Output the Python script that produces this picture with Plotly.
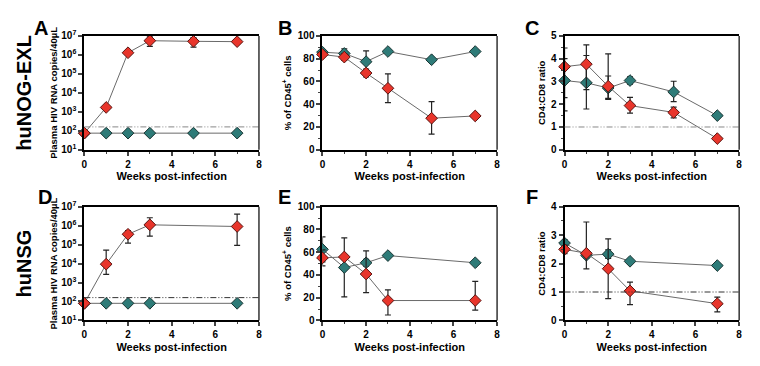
import plotly.graph_objects as go

# ---------------- data ----------------
weeks_top = [0, 1, 2, 3, 5, 7]
weeks_bot = [0, 1, 2, 3, 7]

# Panel A (huNOG-EXL, plasma HIV RNA)
A_red = [75, 1700, 1.3e6, 5.6e6, 5.2e6, 5.0e6]
A_red_up = [0, 0, 0, 4.0e6, 3.0e6, 0]
A_red_dn = [0, 0, 0, 2.8e6, 2.6e6, 0]
A_teal = [75, 75, 75, 75, 75, 75]

# Panel B (% CD45+)
B_red = [83.7, 81.4, 67.4, 54.0, 27.7, 29.7]
B_red_up = [2.0, 3.0, 3.5, 12.6, 14.6, 0]
B_red_dn = [2.0, 3.0, 3.5, 12.6, 14.0, 0]
B_teal = [85.7, 84.6, 77.4, 86.3, 79.1, 86.3]
B_teal_up = [2.0, 4.0, 9.5, 0, 0, 0]
B_teal_dn = [2.0, 4.0, 9.5, 0, 0, 0]

# Panel C (CD4:CD8)
C_red = [3.65, 3.76, 2.79, 1.94, 1.64, 0.49]
C_red_up = [0.82, 0.85, 1.42, 0.36, 0.23, 0]
C_red_dn = [1.36, 1.12, 0.58, 0.33, 0.24, 0]
C_teal = [3.04, 2.94, 2.71, 3.04, 2.54, 1.50]
C_teal_up = [0.96, 1.20, 0.53, 0.16, 0.47, 0]
C_teal_dn = [1.33, 1.15, 0.45, 0.16, 0.43, 0]

# Panel D (huNSG, plasma HIV RNA)
D_red = [80, 9300, 3.5e5, 1.1e6, 9.0e5]
D_red_up = [0, 4.2e4, 2.0e5, 1.5e6, 3.1e6]
D_red_dn = [0, 6.6e3, 2.3e5, 8.2e5, 8.1e5]
D_teal = [80, 80, 80, 80, 80]

# Panel E (% CD45+)
E_red = [55.0, 55.8, 40.8, 17.5, 17.5]
E_red_up = [7.0, 0, 20.3, 9.3, 16.9]
E_red_dn = [7.0, 0, 16.3, 12.7, 8.5]
E_teal = [62.5, 46.5, 50.7, 57.0, 50.7]
E_teal_up = [11.0, 26.0, 3.0, 0, 0]
E_teal_dn = [11.0, 25.7, 3.0, 0, 0]

# Panel F (CD4:CD8)
F_red = [2.50, 2.36, 1.82, 1.04, 0.59]
F_red_up = [0.15, 1.10, 1.05, 0.31, 0.23]
F_red_dn = [0.15, 0.55, 1.05, 0.48, 0.29]
F_teal = [2.72, 2.29, 2.33, 2.08, 1.93]
F_teal_up = [0.12, 0.10, 0.15, 0, 0]
F_teal_dn = [0.12, 0.10, 0.15, 0, 0]

detection_limit = 160
ratio_line = 1

log_tickvals = [10, 100, 1e3, 1e4, 1e5, 1e6, 1e7]
log_ticktext = ["10<sup>1</sup>", "10<sup>2</sup>", "10<sup>3</sup>", "10<sup>4</sup>",
                "10<sup>5</sup>", "10<sup>6</sup>", "10<sup>7</sup>"]

# ---------------- style ----------------
W, H = 760, 366
RED = "#E8352B"
TEAL = "#2E7B78"
FONT = "Liberation Sans"
LINE_C = "#6a6a6a"

fig = go.Figure()

def px_x(p):
    return p / W

def px_y(p):
    return 1 - p / H

cols = [(82, 258), (322, 498), (566, 742)]
rows = [(30, 148), (207, 325)]

panels = [
    ("A", 0, 0, weeks_top, A_red, A_red_up, A_red_dn, A_teal, None, None, "log"),
    ("B", 0, 1, weeks_top, B_red, B_red_up, B_red_dn, B_teal, B_teal_up, B_teal_dn, "pct"),
    ("C", 0, 2, weeks_top, C_red, C_red_up, C_red_dn, C_teal, C_teal_up, C_teal_dn, "ratio5"),
    ("D", 1, 0, weeks_bot, D_red, D_red_up, D_red_dn, D_teal, None, None, "log"),
    ("E", 1, 1, weeks_bot, E_red, E_red_up, E_red_dn, E_teal, E_teal_up, E_teal_dn, "pct"),
    ("F", 1, 2, weeks_bot, F_red, F_red_up, F_red_dn, F_teal, F_teal_up, F_teal_dn, "ratio4"),
]

tickfont = dict(family=FONT, size=10, color="black", weight="bold")
titlefont = dict(family=FONT, size=9.5, color="black", weight="bold")

for i, (key, r, c, wk, red, rup, rdn, teal, tup, tdn, kind) in enumerate(panels):
    n = i + 1
    xa = "x" if n == 1 else f"x{n}"
    ya = "y" if n == 1 else f"y{n}"
    xl = "xaxis" if n == 1 else f"xaxis{n}"
    yl = "yaxis" if n == 1 else f"yaxis{n}"

    def err(up, dn):
        if up is None:
            return dict(visible=False)
        return dict(type="data", symmetric=False, array=up, arrayminus=dn,
                    color="#222222", thickness=1.2, width=3)

    ref_y = detection_limit if kind == "log" else (ratio_line if kind.startswith("ratio") else None)
    if ref_y is not None:
        fig.add_shape(type="line", xref=f"{xa} domain", yref=ya, x0=0, x1=1,
                      y0=ref_y, y1=ref_y,
                      line=dict(color="#333333" if r == 1 else "#888888", width=1,
                                dash="6px,2px,1px,2px,1px,2px"))
    # thin right frame edge
    fig.add_shape(type="line", xref=f"{xa} domain", yref=f"{ya} domain", x0=1, x1=1,
                  y0=0, y1=1, line=dict(color="black", width=1.2))

    fig.add_trace(go.Scatter(x=wk, y=teal, xaxis=xa, yaxis=ya, mode="lines+markers",
                             line=dict(color=LINE_C, width=1),
                             marker=dict(symbol="diamond", size=9, color=TEAL,
                                         line=dict(color="#1a3533", width=1)),
                             error_y=err(tup, tdn), cliponaxis=False, showlegend=False))
    fig.add_trace(go.Scatter(x=wk, y=red, xaxis=xa, yaxis=ya, mode="lines+markers",
                             line=dict(color=LINE_C, width=1),
                             marker=dict(symbol="diamond", size=9, color=RED,
                                         line=dict(color="#5a1410", width=1)),
                             error_y=err(rup, rdn), cliponaxis=False, showlegend=False))

    x0, x1 = cols[c]
    y0, y1 = rows[r]
    fig.layout[xl] = dict(domain=[px_x(x0), px_x(x1)], anchor=ya, range=[0, 8],
                          tickvals=[0, 2, 4, 6, 8], ticks="outside", ticklen=4, tickwidth=1.5,
                          minor=dict(dtick=1, ticks="outside", ticklen=2, tickwidth=1.2, tick0=0),
                          showline=True, linecolor="black", linewidth=2, mirror=True,
                          showgrid=False, zeroline=False, tickfont=tickfont,
                          title=dict(text="Weeks post-infection",
                                     font=dict(family=FONT, size=11, color="black", weight="bold"),
                                     standoff=4))
    yd = dict(domain=[px_y(y1), px_y(y0)], anchor=xa, ticks="outside", ticklen=4, tickwidth=1.5,
              showline=True, linecolor="black", linewidth=2, mirror=False,
              showgrid=False, zeroline=False, tickfont=tickfont)
    if kind == "log":
        yd.update(type="log", range=[1, 7], tickvals=log_tickvals, ticktext=log_ticktext,
                  title=dict(text="Plasma HIV RNA copies/40µL", font=titlefont, standoff=2))
    elif kind == "pct":
        yd.update(range=[0, 100], tickvals=[0, 20, 40, 60, 80, 100],
                  minor=dict(dtick=10, tick0=0, ticks="outside", ticklen=2, tickwidth=1.2),
                  title=dict(text="% of CD45<sup>+</sup> cells", font=titlefont, standoff=4))
    elif kind == "ratio5":
        yd.update(range=[0, 5], tickvals=[0, 1, 2, 3, 4, 5],
                  minor=dict(dtick=0.5, tick0=0, ticks="outside", ticklen=2, tickwidth=1.2),
                  title=dict(text="CD4:CD8 ratio", font=titlefont, standoff=4))
    else:
        yd.update(range=[0, 4], tickvals=[0, 1, 2, 3, 4],
                  minor=dict(dtick=0.5, tick0=0, ticks="outside", ticklen=2, tickwidth=1.2),
                  title=dict(text="CD4:CD8 ratio", font=titlefont, standoff=4))
    fig.layout[yl] = yd

# panel letters
letter_pos = {"A": (38, 22), "B": (284, 22), "C": (533, 22),
              "D": (42, 197), "E": (284, 197), "F": (533, 197)}
for k, (lx, ly) in letter_pos.items():
    fig.add_annotation(text=k, x=px_x(lx), y=px_y(ly), xref="paper", yref="paper",
                       xanchor="center", yanchor="middle", showarrow=False,
                       font=dict(family=FONT, size=20, color="black", weight="bold"))

# row labels
for txt, cy in [("huNOG-EXL", 89), ("huNSG", 266)]:
    fig.add_annotation(text=txt, x=px_x(21), y=px_y(cy), xref="paper", yref="paper",
                       xanchor="center", yanchor="middle", showarrow=False, textangle=-90,
                       font=dict(family=FONT, size=20, color="black", weight="bold"))

fig.update_layout(width=W, height=H, margin=dict(l=0, r=0, t=0, b=0),
                  paper_bgcolor="white", plot_bgcolor="white")

fig.write_html("out.html", config={"displayModeBar": False},
               post_script="document.body.style.margin='0';")
